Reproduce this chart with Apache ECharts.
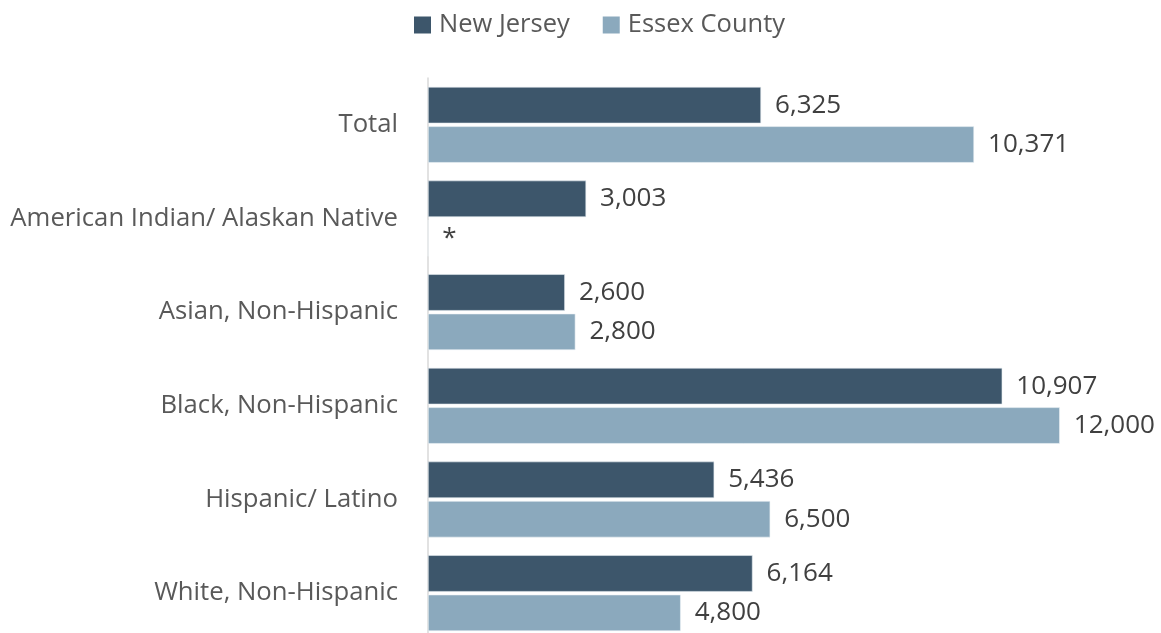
<!DOCTYPE html>
<html>
<head>
<meta charset="utf-8">
<script src="https://cdn.jsdelivr.net/npm/echarts@6/dist/echarts.min.js"></script>
<style>
  html, body { margin: 0; padding: 0; background: #ffffff; }
  #chart { width: 1161px; height: 633px; }
</style>
</head>
<body>
<div id="chart"></div>
<script>
// Categories listed top to bottom
const categories = [
  'Total',
  'American Indian/ Alaskan Native',
  'Asian, Non-Hispanic',
  'Black, Non-Hispanic',
  'Hispanic/ Latino',
  'White, Non-Hispanic'
];
const seriesNames = ['New Jersey', 'Essex County'];
const newJersey = [6325, 3003, 2600, 10907, 5436, 6164];
// null = suppressed estimate, shown as "*"
const essexCounty = [10371, null, 2800, 12000, 6500, 4800];

const FONT = 'Open Sans';
const fmt = v => v.toLocaleString('en-US');

function toData(arr) {
  return arr.map(v => v === null
    ? { value: 0, label: { formatter: '*' } }
    : v);
}

const chart = echarts.init(document.getElementById('chart'), null, { renderer: 'canvas' });

chart.setOption({
  animation: false,
  textStyle: { fontFamily: FONT },
  legend: {
    top: 7,
    left: 409,
    itemWidth: 17,
    itemHeight: 17,
    itemGap: 33,
    icon: 'rect',
    itemStyle: { borderWidth: 0 },
    textStyle: { fontSize: 25.5, color: '#595959', fontFamily: FONT, padding: [0, 0, 0, 3] },
    data: seriesNames
  },
  // the last category band runs slightly past the bottom edge of the canvas
  grid: { left: 428, width: 684.5, top: 78, height: 562, containLabel: false, outerBoundsMode: 'none' },
  xAxis: {
    type: 'value',
    min: 0,
    max: 13000,
    show: false
  },
  yAxis: {
    type: 'category',
    inverse: true,
    data: categories,
    axisLine: { show: true, lineStyle: { color: '#d9d9d9', width: 1.5 } },
    axisTick: { show: false },
    axisLabel: { margin: 30, fontSize: 25.7, color: '#595959', fontFamily: FONT }
  },
  series: [
    {
      name: seriesNames[0],
      type: 'bar',
      data: toData(newJersey),
      barCategoryGap: '19%',
      barGap: '8%',
      itemStyle: { color: '#3d566b', borderColor: '#e4ebf0', borderWidth: 0.6 },
      label: {
        show: true, position: 'right', distance: 14,
        fontSize: 26, color: '#404040', fontFamily: FONT,
        formatter: p => fmt(p.value)
      }
    },
    {
      name: seriesNames[1],
      type: 'bar',
      data: toData(essexCounty),
      barCategoryGap: '19%',
      barGap: '8%',
      itemStyle: { color: '#8ba9bd', borderColor: '#eef3f6', borderWidth: 0.6 },
      label: {
        show: true, position: 'right', distance: 14,
        fontSize: 26, color: '#404040', fontFamily: FONT,
        formatter: p => fmt(p.value)
      }
    }
  ]
});
</script>
</body>
</html>
